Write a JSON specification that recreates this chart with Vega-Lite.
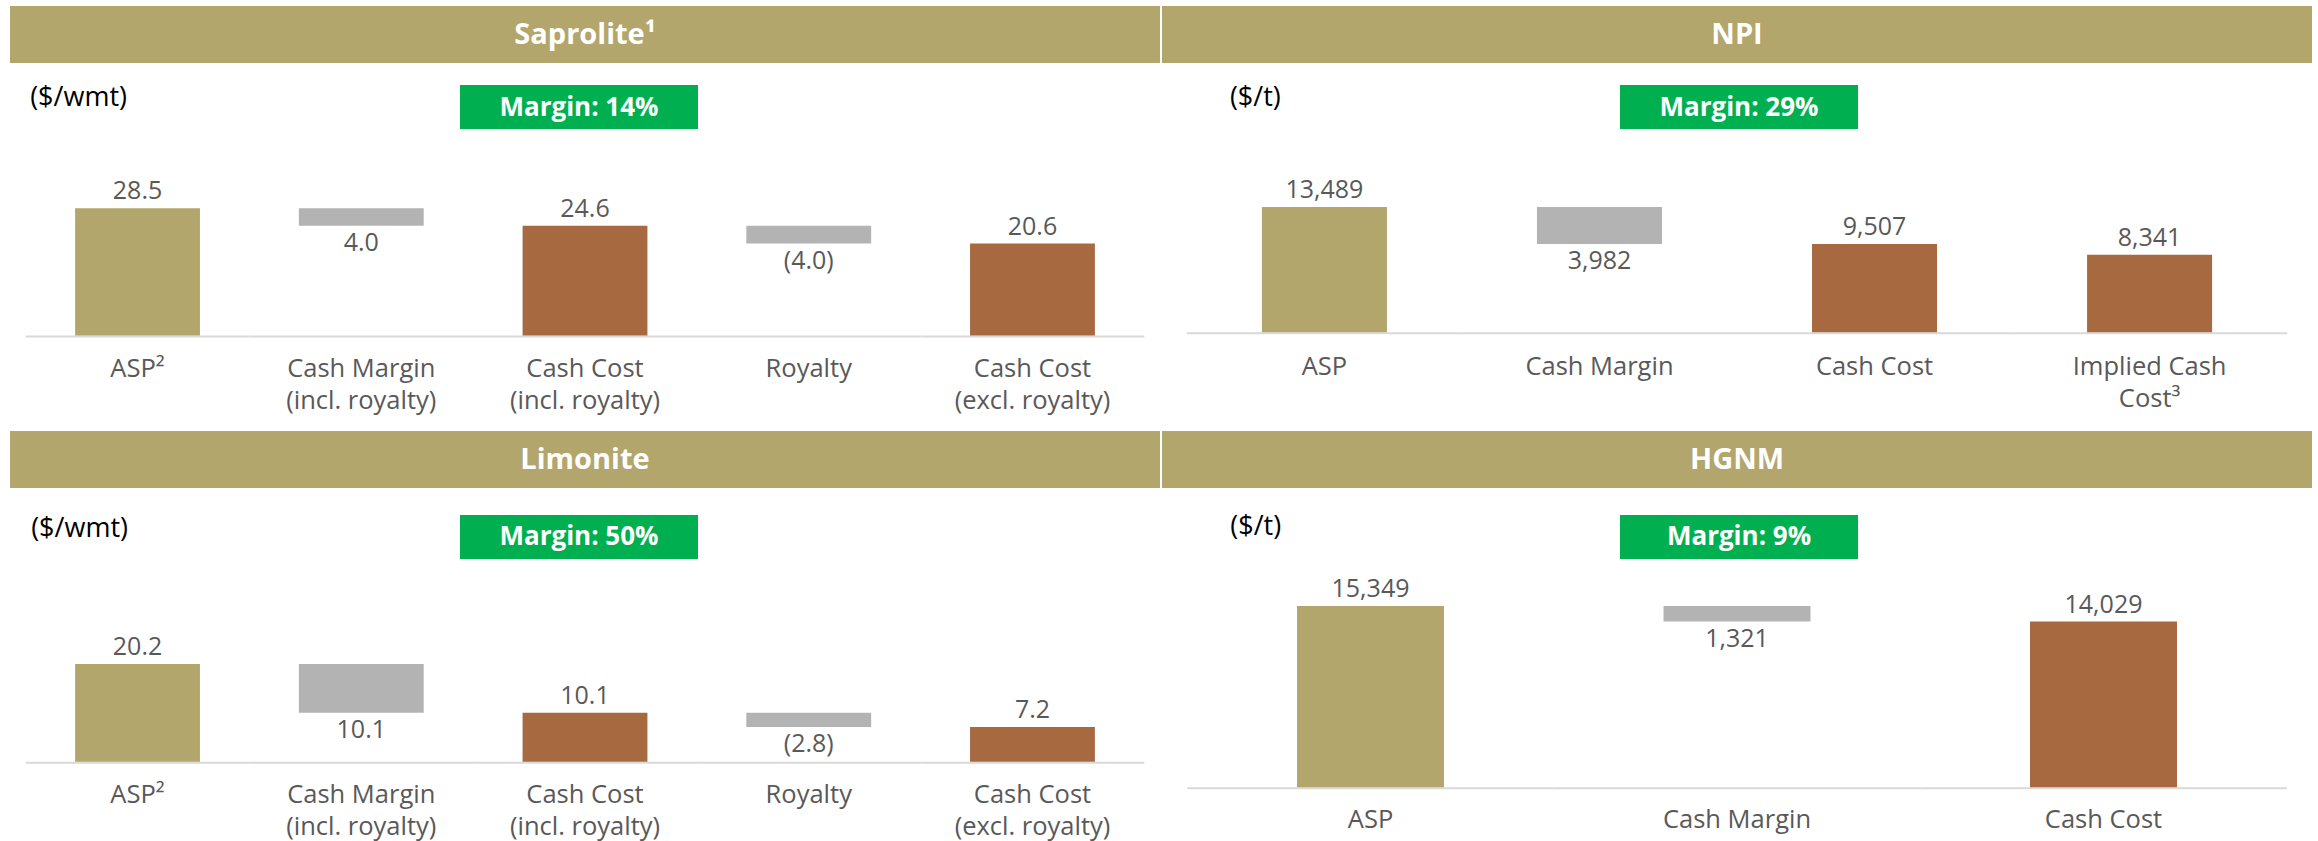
{
  "$schema": "https://vega.github.io/schema/vega-lite/v6.json",
  "padding": {"left": 10, "top": 6, "right": 6, "bottom": 0},
  "background": "white",
  "config": {"view": {"stroke": null}, "font": "Open Sans"},
  "datasets": {
    "bars": [
      {"panel": "Saprolite", "cat": "ASP²", "lo": 0, "hi": 28.5, "label": "28.5", "kind": "price"},
      {"panel": "Saprolite", "cat": "Cash Margin\n(incl. royalty)", "lo": 24.6, "hi": 28.5, "label": "4.0", "kind": "delta"},
      {"panel": "Saprolite", "cat": "Cash Cost\n(incl. royalty)", "lo": 0, "hi": 24.6, "label": "24.6", "kind": "cost"},
      {"panel": "Saprolite", "cat": "Royalty", "lo": 20.6, "hi": 24.6, "label": "(4.0)", "kind": "delta"},
      {"panel": "Saprolite", "cat": "Cash Cost\n(excl. royalty)", "lo": 0, "hi": 20.6, "label": "20.6", "kind": "cost"},
      {"panel": "NPI", "cat": "ASP", "lo": 0, "hi": 13489, "label": "13,489", "kind": "price"},
      {"panel": "NPI", "cat": "Cash Margin", "lo": 9507, "hi": 13489, "label": "3,982", "kind": "delta"},
      {"panel": "NPI", "cat": "Cash Cost", "lo": 0, "hi": 9507, "label": "9,507", "kind": "cost"},
      {"panel": "NPI", "cat": "Implied Cash\nCost³", "lo": 0, "hi": 8341, "label": "8,341", "kind": "cost"},
      {"panel": "Limonite", "cat": "ASP²", "lo": 0, "hi": 20.2, "label": "20.2", "kind": "price"},
      {"panel": "Limonite", "cat": "Cash Margin\n(incl. royalty)", "lo": 10.1, "hi": 20.2, "label": "10.1", "kind": "delta"},
      {"panel": "Limonite", "cat": "Cash Cost\n(incl. royalty)", "lo": 0, "hi": 10.1, "label": "10.1", "kind": "cost"},
      {"panel": "Limonite", "cat": "Royalty", "lo": 7.2, "hi": 10.1, "label": "(2.8)", "kind": "delta"},
      {"panel": "Limonite", "cat": "Cash Cost\n(excl. royalty)", "lo": 0, "hi": 7.2, "label": "7.2", "kind": "cost"},
      {"panel": "HGNM", "cat": "ASP", "lo": 0, "hi": 15349, "label": "15,349", "kind": "price"},
      {"panel": "HGNM", "cat": "Cash Margin", "lo": 14029, "hi": 15349, "label": "1,321", "kind": "delta"},
      {"panel": "HGNM", "cat": "Cash Cost", "lo": 0, "hi": 14029, "label": "14,029", "kind": "cost"}
    ]
  },
  "columns": 2,
  "spacing": {"row": 0, "column": 2},
  "bounds": "flush",
  "concat": [
    {
      "width": 1150, "height": 57,
      "view": {"fill": "#b2a66c", "stroke": null},
      "data": {"values": [{"title": "Saprolite¹"}]},
      "mark": {"type": "text", "color": "white", "fontWeight": "bold", "fontSize": 29, "baseline": "middle"},
      "encoding": {"text": {"field": "title"}}
    },
    {
      "width": 1150, "height": 57,
      "view": {"fill": "#b2a66c", "stroke": null},
      "data": {"values": [{"title": "NPI"}]},
      "mark": {"type": "text", "color": "white", "fontWeight": "bold", "fontSize": 29, "baseline": "middle"},
      "encoding": {"text": {"field": "title"}}
    },
    {
      "width": 1150, "height": 368,
      "layer": [
        {
          "data": {"name": "bars"},
          "transform": [{"filter": "datum.panel === 'Saprolite'"}],
          "encoding": {"x": {"field": "cat", "type": "nominal", "axis": null, "scale": {"domain": ["ASP²", "Cash Margin\n(incl. royalty)", "Cash Cost\n(incl. royalty)", "Royalty", "Cash Cost\n(excl. royalty)"], "paddingInner": 0, "paddingOuter": 0.07}}},
          "layer": [
            {"mark": {"type": "bar", "width": {"band": 1}, "color": "#d9d9d9"},
             "encoding": {"y": {"datum": 0, "type": "quantitative", "axis": null, "scale": {"domain": [-21.4, 61.06], "nice": false, "zero": false}}, "y2": {"datum": -0.45}}},
            {"mark": {"type": "bar", "width": {"band": 0.558}},
             "encoding": {"y": {"field": "hi", "type": "quantitative", "axis": null, "scale": {"domain": [-21.4, 61.06], "nice": false, "zero": false}}, "y2": {"field": "lo"},
               "color": {"field": "kind", "type": "nominal", "legend": null, "scale": {"domain": ["price", "delta", "cost"], "range": ["#b2a66c", "#b3b3b3", "#a66940"]}}}},
            {"transform": [{"filter": "datum.kind !== 'delta'"}],
             "mark": {"type": "text", "dy": -9, "baseline": "alphabetic", "fontSize": 25, "color": "#595959"},
             "encoding": {"y": {"field": "hi", "type": "quantitative", "axis": null, "scale": {"domain": [-21.4, 61.06], "nice": false, "zero": false}}, "text": {"field": "label"}}},
            {"transform": [{"filter": "datum.kind === 'delta'"}],
             "mark": {"type": "text", "dy": 25, "baseline": "alphabetic", "fontSize": 25, "color": "#595959"},
             "encoding": {"y": {"field": "lo", "type": "quantitative", "axis": null, "scale": {"domain": [-21.4, 61.06], "nice": false, "zero": false}}, "text": {"field": "label"}}},
            {"mark": {"type": "text", "lineBreak": "\n", "lineHeight": 32, "fontSize": 25.5, "color": "#595959", "baseline": "alphabetic"},
             "encoding": {"y": {"datum": -9.41, "type": "quantitative", "axis": null, "scale": {"domain": [-21.4, 61.06], "nice": false, "zero": false}}, "text": {"field": "cat"}}}
          ]
        },
        {
          "data": {"values": [{"unit": "($/wmt)", "margin": "Margin: 14%", "first": "ASP²"}]},
          "layer": [
            {"mark": {"type": "bar", "width": 238, "color": "#00b050", "xOffset": -6},
             "encoding": {"y": {"datum": 56.13, "type": "quantitative", "axis": null, "scale": {"domain": [-21.4, 61.06], "nice": false, "zero": false}}, "y2": {"datum": 46.27}}},
            {"mark": {"type": "text", "color": "white", "fontWeight": "bold", "fontSize": 26, "baseline": "middle", "dx": -6},
             "encoding": {"y": {"datum": 51.05, "type": "quantitative", "axis": null, "scale": {"domain": [-21.4, 61.06], "nice": false, "zero": false}}, "text": {"field": "margin"}}},
            {"mark": {"type": "text", "color": "black", "fontSize": 27, "align": "left", "baseline": "middle", "dx": 4.5},
             "encoding": {"x": {"field": "first", "type": "nominal", "bandPosition": 0, "axis": null, "scale": {"domain": ["ASP²", "Cash Margin\n(incl. royalty)", "Cash Cost\n(incl. royalty)", "Royalty", "Cash Cost\n(excl. royalty)"], "paddingInner": 0, "paddingOuter": 0.07}},
               "y": {"datum": 53.21, "type": "quantitative", "axis": null, "scale": {"domain": [-21.4, 61.06], "nice": false, "zero": false}}, "text": {"field": "unit"}}}
          ]
        }
      ]
    },
    {
      "width": 1150, "height": 368,
      "layer": [
        {
          "data": {"name": "bars"},
          "transform": [{"filter": "datum.panel === 'NPI'"}],
          "encoding": {"x": {"field": "cat", "type": "nominal", "axis": null, "scale": {"domain": ["ASP", "Cash Margin", "Cash Cost", "Implied Cash\nCost³"], "paddingInner": 0, "paddingOuter": 0.0905}}},
          "layer": [
            {"mark": {"type": "bar", "width": {"band": 1}, "color": "#d9d9d9"},
             "encoding": {"y": {"datum": 0, "type": "quantitative", "axis": null, "scale": {"domain": [-10626, 28991], "nice": false, "zero": false}}, "y2": {"datum": -215}}},
            {"mark": {"type": "bar", "width": {"band": 0.4545}},
             "encoding": {"y": {"field": "hi", "type": "quantitative", "axis": null, "scale": {"domain": [-10626, 28991], "nice": false, "zero": false}}, "y2": {"field": "lo"},
               "color": {"field": "kind", "type": "nominal", "legend": null, "scale": {"domain": ["price", "delta", "cost"], "range": ["#b2a66c", "#b3b3b3", "#a66940"]}}}},
            {"transform": [{"filter": "datum.kind !== 'delta'"}],
             "mark": {"type": "text", "dy": -9, "baseline": "alphabetic", "fontSize": 25, "color": "#595959"},
             "encoding": {"y": {"field": "hi", "type": "quantitative", "axis": null, "scale": {"domain": [-10626, 28991], "nice": false, "zero": false}}, "text": {"field": "label"}}},
            {"transform": [{"filter": "datum.kind === 'delta'"}],
             "mark": {"type": "text", "dy": 25, "baseline": "alphabetic", "fontSize": 25, "color": "#595959"},
             "encoding": {"y": {"field": "lo", "type": "quantitative", "axis": null, "scale": {"domain": [-10626, 28991], "nice": false, "zero": false}}, "text": {"field": "label"}}},
            {"mark": {"type": "text", "lineBreak": "\n", "lineHeight": 32, "fontSize": 25.5, "color": "#595959", "baseline": "alphabetic"},
             "encoding": {"y": {"datum": -4597, "type": "quantitative", "axis": null, "scale": {"domain": [-10626, 28991], "nice": false, "zero": false}}, "text": {"field": "cat"}}}
          ]
        },
        {
          "data": {"values": [{"unit": "($/t)", "margin": "Margin: 29%", "first": "ASP"}]},
          "layer": [
            {"mark": {"type": "bar", "width": 238, "color": "#00b050", "xOffset": 2},
             "encoding": {"y": {"datum": 26623, "type": "quantitative", "axis": null, "scale": {"domain": [-10626, 28991], "nice": false, "zero": false}}, "y2": {"datum": 21886}}},
            {"mark": {"type": "text", "color": "white", "fontWeight": "bold", "fontSize": 26, "baseline": "middle", "dx": 2},
             "encoding": {"y": {"datum": 24168, "type": "quantitative", "axis": null, "scale": {"domain": [-10626, 28991], "nice": false, "zero": false}}, "text": {"field": "margin"}}},
            {"mark": {"type": "text", "color": "black", "fontSize": 27, "align": "left", "baseline": "middle", "dx": 43},
             "encoding": {"x": {"field": "first", "type": "nominal", "bandPosition": 0, "axis": null, "scale": {"domain": ["ASP", "Cash Margin", "Cash Cost", "Implied Cash\nCost³"], "paddingInner": 0, "paddingOuter": 0.0905}},
               "y": {"datum": 25223, "type": "quantitative", "axis": null, "scale": {"domain": [-10626, 28991], "nice": false, "zero": false}}, "text": {"field": "unit"}}}
          ]
        }
      ]
    },
    {
      "width": 1150, "height": 57,
      "view": {"fill": "#b2a66c", "stroke": null},
      "data": {"values": [{"title": "Limonite"}]},
      "mark": {"type": "text", "color": "white", "fontWeight": "bold", "fontSize": 29, "baseline": "middle"},
      "encoding": {"text": {"field": "title"}}
    },
    {
      "width": 1150, "height": 57,
      "view": {"fill": "#b2a66c", "stroke": null},
      "data": {"values": [{"title": "HGNM"}]},
      "mark": {"type": "text", "color": "white", "fontWeight": "bold", "fontSize": 29, "baseline": "middle"},
      "encoding": {"text": {"field": "title"}}
    },
    {
      "width": 1150, "height": 353,
      "layer": [
        {
          "data": {"name": "bars"},
          "transform": [{"filter": "datum.panel === 'Limonite'"}],
          "encoding": {"x": {"field": "cat", "type": "nominal", "axis": null, "scale": {"domain": ["ASP²", "Cash Margin\n(incl. royalty)", "Cash Cost\n(incl. royalty)", "Royalty", "Cash Cost\n(excl. royalty)"], "paddingInner": 0, "paddingOuter": 0.07}}},
          "layer": [
            {"mark": {"type": "bar", "width": {"band": 1}, "color": "#d9d9d9"},
             "encoding": {"y": {"datum": 0, "type": "quantitative", "axis": null, "scale": {"domain": [-16.4, 56.6], "nice": false, "zero": false}}, "y2": {"datum": -0.41}}},
            {"mark": {"type": "bar", "width": {"band": 0.558}},
             "encoding": {"y": {"field": "hi", "type": "quantitative", "axis": null, "scale": {"domain": [-16.4, 56.6], "nice": false, "zero": false}}, "y2": {"field": "lo"},
               "color": {"field": "kind", "type": "nominal", "legend": null, "scale": {"domain": ["price", "delta", "cost"], "range": ["#b2a66c", "#b3b3b3", "#a66940"]}}}},
            {"transform": [{"filter": "datum.kind !== 'delta'"}],
             "mark": {"type": "text", "dy": -9, "baseline": "alphabetic", "fontSize": 25, "color": "#595959"},
             "encoding": {"y": {"field": "hi", "type": "quantitative", "axis": null, "scale": {"domain": [-16.4, 56.6], "nice": false, "zero": false}}, "text": {"field": "label"}}},
            {"transform": [{"filter": "datum.kind === 'delta'"}],
             "mark": {"type": "text", "dy": 25, "baseline": "alphabetic", "fontSize": 25, "color": "#595959"},
             "encoding": {"y": {"field": "lo", "type": "quantitative", "axis": null, "scale": {"domain": [-16.4, 56.6], "nice": false, "zero": false}}, "text": {"field": "label"}}},
            {"mark": {"type": "text", "lineBreak": "\n", "lineHeight": 32, "fontSize": 25.5, "color": "#595959", "baseline": "alphabetic"},
             "encoding": {"y": {"datum": -8.54, "type": "quantitative", "axis": null, "scale": {"domain": [-16.4, 56.6], "nice": false, "zero": false}}, "text": {"field": "cat"}}}
          ]
        },
        {
          "data": {"values": [{"unit": "($/wmt)", "margin": "Margin: 50%", "first": "ASP²"}]},
          "layer": [
            {"mark": {"type": "bar", "width": 238, "color": "#00b050", "xOffset": -6},
             "encoding": {"y": {"datum": 51.01, "type": "quantitative", "axis": null, "scale": {"domain": [-16.4, 56.6], "nice": false, "zero": false}}, "y2": {"datum": 41.92}}},
            {"mark": {"type": "text", "color": "white", "fontWeight": "bold", "fontSize": 26, "baseline": "middle", "dx": -6},
             "encoding": {"y": {"datum": 46.46, "type": "quantitative", "axis": null, "scale": {"domain": [-16.4, 56.6], "nice": false, "zero": false}}, "text": {"field": "margin"}}},
            {"mark": {"type": "text", "color": "black", "fontSize": 27, "align": "left", "baseline": "middle", "dx": 5.5},
             "encoding": {"x": {"field": "first", "type": "nominal", "bandPosition": 0, "axis": null, "scale": {"domain": ["ASP²", "Cash Margin\n(incl. royalty)", "Cash Cost\n(incl. royalty)", "Royalty", "Cash Cost\n(excl. royalty)"], "paddingInner": 0, "paddingOuter": 0.07}},
               "y": {"datum": 48.12, "type": "quantitative", "axis": null, "scale": {"domain": [-16.4, 56.6], "nice": false, "zero": false}}, "text": {"field": "unit"}}}
          ]
        }
      ]
    },
    {
      "width": 1150, "height": 353,
      "layer": [
        {
          "data": {"name": "bars"},
          "transform": [{"filter": "datum.panel === 'HGNM'"}],
          "encoding": {"x": {"field": "cat", "type": "nominal", "axis": null, "scale": {"domain": ["ASP", "Cash Margin", "Cash Cost"], "paddingInner": 0, "paddingOuter": 0.0689}}},
          "layer": [
            {"mark": {"type": "bar", "width": {"band": 1}, "color": "#d9d9d9"},
             "encoding": {"y": {"datum": 0, "type": "quantitative", "axis": null, "scale": {"domain": [-4546, 25339], "nice": false, "zero": false}}, "y2": {"datum": -169}}},
            {"mark": {"type": "bar", "width": {"band": 0.401}},
             "encoding": {"y": {"field": "hi", "type": "quantitative", "axis": null, "scale": {"domain": [-4546, 25339], "nice": false, "zero": false}}, "y2": {"field": "lo"},
               "color": {"field": "kind", "type": "nominal", "legend": null, "scale": {"domain": ["price", "delta", "cost"], "range": ["#b2a66c", "#b3b3b3", "#a66940"]}}}},
            {"transform": [{"filter": "datum.kind !== 'delta'"}],
             "mark": {"type": "text", "dy": -9, "baseline": "alphabetic", "fontSize": 25, "color": "#595959"},
             "encoding": {"y": {"field": "hi", "type": "quantitative", "axis": null, "scale": {"domain": [-4546, 25339], "nice": false, "zero": false}}, "text": {"field": "label"}}},
            {"transform": [{"filter": "datum.kind === 'delta'"}],
             "mark": {"type": "text", "dy": 25, "baseline": "alphabetic", "fontSize": 25, "color": "#595959"},
             "encoding": {"y": {"field": "lo", "type": "quantitative", "axis": null, "scale": {"domain": [-4546, 25339], "nice": false, "zero": false}}, "text": {"field": "label"}}},
            {"mark": {"type": "text", "lineBreak": "\n", "lineHeight": 32, "fontSize": 25.5, "color": "#595959", "baseline": "alphabetic"},
             "encoding": {"y": {"datum": -3446, "type": "quantitative", "axis": null, "scale": {"domain": [-4546, 25339], "nice": false, "zero": false}}, "text": {"field": "cat"}}}
          ]
        },
        {
          "data": {"values": [{"unit": "($/t)", "margin": "Margin: 9%", "first": "ASP"}]},
          "layer": [
            {"mark": {"type": "bar", "width": 238, "color": "#00b050", "xOffset": 2},
             "encoding": {"y": {"datum": 23053, "type": "quantitative", "axis": null, "scale": {"domain": [-4546, 25339], "nice": false, "zero": false}}, "y2": {"datum": 19328}}},
            {"mark": {"type": "text", "color": "white", "fontWeight": "bold", "fontSize": 26, "baseline": "middle", "dx": 2},
             "encoding": {"y": {"datum": 21190, "type": "quantitative", "axis": null, "scale": {"domain": [-4546, 25339], "nice": false, "zero": false}}, "text": {"field": "margin"}}},
            {"mark": {"type": "text", "color": "black", "fontSize": 27, "align": "left", "baseline": "middle", "dx": 43},
             "encoding": {"x": {"field": "first", "type": "nominal", "bandPosition": 0, "axis": null, "scale": {"domain": ["ASP", "Cash Margin", "Cash Cost"], "paddingInner": 0, "paddingOuter": 0.0689}},
               "y": {"datum": 21995, "type": "quantitative", "axis": null, "scale": {"domain": [-4546, 25339], "nice": false, "zero": false}}, "text": {"field": "unit"}}}
          ]
        }
      ]
    }
  ]
}
